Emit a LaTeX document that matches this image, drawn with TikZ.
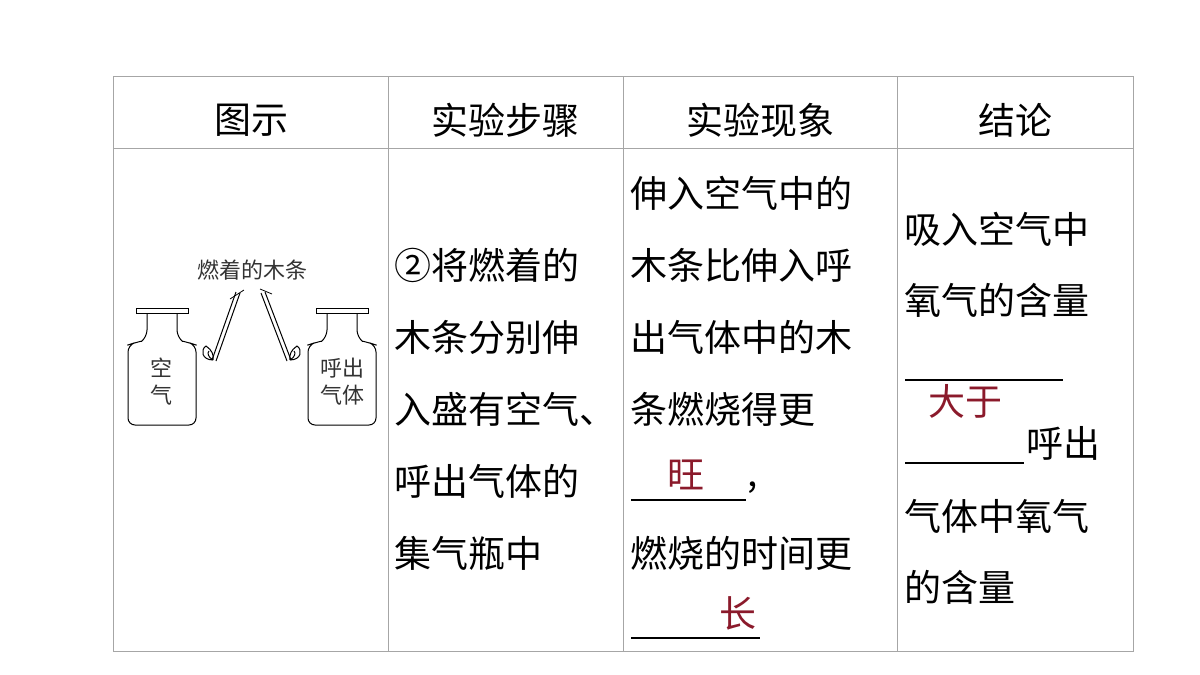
\documentclass[tikz,border=0pt]{standalone}
\usepackage{fontspec}
\setmainfont{Noto Sans CJK SC}
\newfontfamily\serifcjk{Noto Sans CJK SC}
\usetikzlibrary{positioning}
\definecolor{ansred}{HTML}{8B1A2B}
\tikzset{
 txt/.style={anchor=west,inner sep=0pt,font=\fontsize{37}{40}\selectfont},
 hd/.style={inner sep=0pt,font=\fontsize{37}{40}\selectfont},
 ans/.style={inner sep=0pt,text=ansred,font=\fontsize{37}{40}\selectfont},
 blank/.style={line width=1.2pt},
 bottle/.style={line width=1pt},
}
\begin{document}
\begin{tikzpicture}[x=1pt,y=-1pt]
 \useasboundingbox (0,0) rectangle (1200,675);
 % table grid
 \draw[gray!70,line width=1pt] (113,76) rectangle (1133,651);
 \draw[gray!70,line width=1pt] (113,148) -- (1133,148);
 \foreach \x in {388,623,897} \draw[gray!70,line width=1pt] (\x,76) -- (\x,651);
 % headers
 \node[hd] (h1) at (251,120) {图示};
 \node[hd] (h2) at (505,120) {实验步骤};
 \node[hd] (h3) at (760,120) {实验现象};
 \node[hd] (h4) at (1015,120) {结论};
 % column 2
 \node[txt] (s1) at (394,265) {②将燃着的};
 \node[txt] (s2) at (394,337) {木条分别伸};
 \node[txt] (s3) at (394,409) {入盛有空气、};
 \node[txt] (s4) at (394,481) {呼出气体的};
 \node[txt] (s5) at (394,553) {集气瓶中};
 % column 3
 \node[txt] (p1) at (630,193) {伸入空气中的};
 \node[txt] (p2) at (630,265) {木条比伸入呼};
 \node[txt] (p3) at (630,337) {出气体中的木};
 \node[txt] (p4) at (630,409) {条燃烧得更};
 \draw[blank] (631,500) -- (746,500);
 \node[ans] (a1) at (686,475) {旺};
 \node[txt] (cm) at (747,488) {,};
 \node[txt] (p5) at (630,553) {燃烧的时间更};
 \draw[blank] (631,638) -- (760,638);
 \node[ans] (a2) at (738,613) {长};
 % column 4
 \node[txt] (c1) at (904,229) {吸入空气中};
 \node[txt] (c2) at (904,300) {氧气的含量};
 \draw[blank] (905,380) -- (1063,380);
 \node[ans] (a3) at (965,401) {大于};
 \draw[blank] (905,463) -- (1024,463);
 \node[txt] (c3) at (1026,443) {呼出};
 \node[txt] (c4) at (904,516) {气体中氧气};
 \node[txt] (c5) at (904,587) {的含量};
 % figure: bottles
 \foreach \cx/\nm in {162/l,342/r}{
  \draw[bottle] (\cx-26,308) rectangle (\cx+26,313);
  \draw[bottle,rounded corners=7pt] (\cx-15,313) -- (\cx-15,337)
    .. controls (\cx-20,341) .. (\cx-28,343) -- (\cx-34,345) -- (\cx-34,425)
    -- (\cx+34,425) -- (\cx+34,345) -- (\cx+28,343)
    .. controls (\cx+20,341) .. (\cx+15,337) -- (\cx+15,313);
 }
 \node[inner sep=0pt,align=center,font=\fontsize{22}{27}\selectfont,color=black!80] (bl) at (161,382) {空\\气};
 \node[inner sep=0pt,align=center,font=\fontsize{22}{27}\selectfont,color=black!80] (br) at (342,382) {呼出\\气体};
 \node[inner sep=0pt,font=\fontsize{22}{24}\selectfont,color=black!80] (lbl) at (252,270) {燃着的木条};
 % sticks
 \draw[bottle] (236,292) -- (212,360) (240,293) -- (216,361);
 \draw[bottle] (261,293) -- (287,361) (265,292) -- (291,360);
 \draw[bottle] (213,360) .. controls (202,360) and (200,350) .. (206,346) .. controls (212,350) and (214,355) .. (213,360)
   (213,360) .. controls (208,357) and (207,353) .. (209,351);
 \draw[bottle] (290,360) .. controls (301,360) and (303,350) .. (297,346) .. controls (291,350) and (289,355) .. (290,360)
   (290,360) .. controls (295,357) and (296,353) .. (294,351);
 % leader lines
 \draw[line width=0.8pt] (230,299) -- (244,290);
 \draw[line width=0.8pt] (260,289) -- (272,294);
\end{tikzpicture}
\end{document}
